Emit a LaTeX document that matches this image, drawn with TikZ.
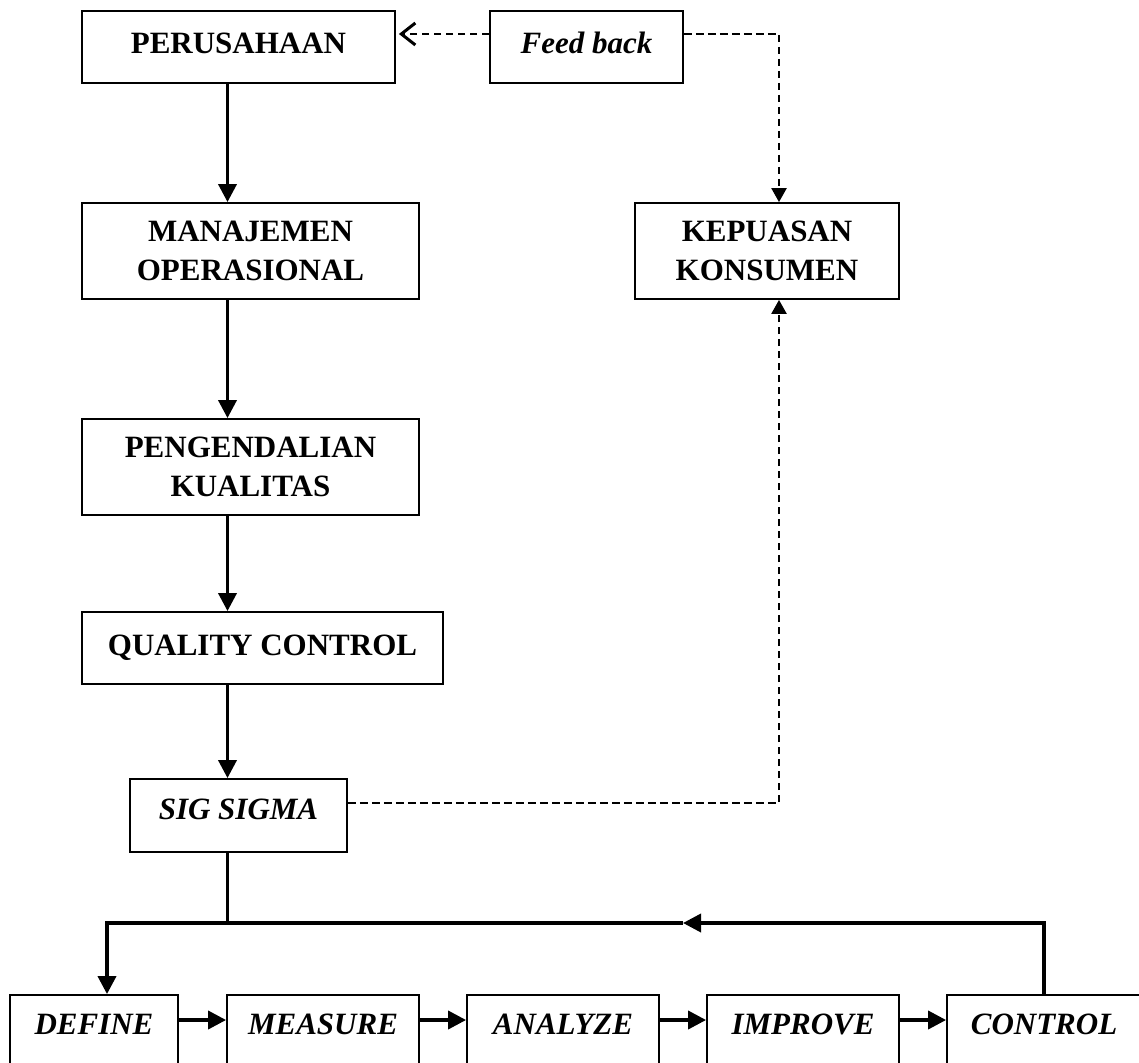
\documentclass[tikz,border=0pt]{standalone}
\usepackage{fontspec}
\setmainfont{Liberation Serif}
\usetikzlibrary{arrows.meta}
% lift a label inside its box without changing the box size
\newcommand\liftby[2]{\raisebox{#1}[\height][\depth]{#2}}

\begin{document}
\begin{tikzpicture}[x=0.5pt,y=-0.5pt,
  box/.style={draw, line width=0.9pt, inner sep=0pt, align=center,
    font=\bfseries\fontsize{15.5}{19.5}\selectfont},
  ibox/.style={box, font=\bfseries\itshape\fontsize{15.5}{19.5}\selectfont},
  flow/.style={line width=1.8pt, -{Triangle[length=9pt,width=9pt]}},
  link/.style={line width=1.8pt},
  fbline/.style={line width=1.2pt, dash pattern=on 3.8pt off 2.2pt},
]
\useasboundingbox (0,0) rectangle (1139,1063);
\fill[white] (0,0) rectangle (1139,1063);
\begin{scope}
\clip (0,0) rectangle (1139,1063);

% guide coordinates for the connector routes
\coordinate (colx) at (227.5,0);
\coordinate (jx) at (107,0);
\coordinate (fbx) at (779,0);
\coordinate (fbrow) at (0,34);
\coordinate (sigrow) at (0,803);
\coordinate (loopy) at (0,923);
\coordinate (brow) at (0,1020);
\coordinate (midtip) at (683,923);

% main column
\node[box, minimum width=156.5pt, minimum height=36pt] (per) at (238.5,47) {\liftby{2pt}{PERUSAHAAN}};
\node[box, minimum width=168.5pt, minimum height=48pt] (man) at (250.5,251) {MANAJEMEN\\OPERASIONAL};
\node[box, minimum width=168.5pt, minimum height=48pt] (peng) at (250.5,467) {PENGENDALIAN\\KUALITAS};
\node[box, minimum width=180.5pt, minimum height=36pt] (qc) at (262.5,648) {QUALITY CONTROL};
\node[ibox, minimum width=108.5pt, minimum height=36.5pt] (sig) at (238.5,815.5) {\liftby{3.2pt}{SIG SIGMA}};

% feedback side
\node[ibox, minimum width=96.5pt, minimum height=36pt] (feed) at (586.5,47) {\liftby{2pt}{Feed back}};
\node[box, minimum width=132pt, minimum height=48pt] (kep) at (767,251) {KEPUASAN\\KONSUMEN};

% DMAIC row
\node[ibox, minimum width=84pt, minimum height=52.5pt] (def) at (94,1047.5) {\liftby{11.75pt}{DEFINE}};
\node[ibox, minimum width=96pt, minimum height=52.5pt] (mea) at (323,1047.5) {\liftby{11.75pt}{MEASURE}};
\node[ibox, minimum width=96pt, minimum height=52.5pt] (ana) at (563,1047.5) {\liftby{11.75pt}{ANALYZE}};
\node[ibox, minimum width=96pt, minimum height=52.5pt] (imp) at (803,1047.5) {\liftby{11.75pt}{IMPROVE}};
\node[ibox, minimum width=97pt, minimum height=52.5pt] (ctl) at (1044,1047.5) {\liftby{11.75pt}{CONTROL}};

% vertical flow
\draw[flow] (per.south -| colx) -- (man.north -| colx);
\draw[flow] (man.south -| colx) -- (peng.north -| colx);
\draw[flow] (peng.south -| colx) -- (qc.north -| colx);
\draw[flow] (qc.south -| colx) -- (sig.north -| colx);

% loop into the DMAIC cycle
\draw[link] (sig.south -| colx) -- (colx |- loopy);
\draw[flow] (ctl.north) |- (midtip);
\draw[flow] (midtip) -| (def.north -| jx);

% DMAIC steps
\draw[flow] (def.east |- brow) -- (mea.west |- brow);
\draw[flow] (mea.east |- brow) -- (ana.west |- brow);
\draw[flow] (ana.east |- brow) -- (imp.west |- brow);
\draw[flow] (imp.east |- brow) -- (ctl.west |- brow);

% dashed feedback links
\draw[fbline, -{Triangle[length=7pt,width=7.5pt]}] (sig.east |- sigrow) -| (kep.south -| fbx);
\draw[fbline, -{Triangle[length=7pt,width=7.5pt]}] (feed.east |- fbrow) -| (kep.north -| fbx);
\draw[fbline, -{Straight Barb[length=7pt,width=11pt,line width=1.5pt]}] (feed.west |- fbrow) -- ([xshift=1.5pt]per.east |- fbrow);
\end{scope}
\end{tikzpicture}
\end{document}
